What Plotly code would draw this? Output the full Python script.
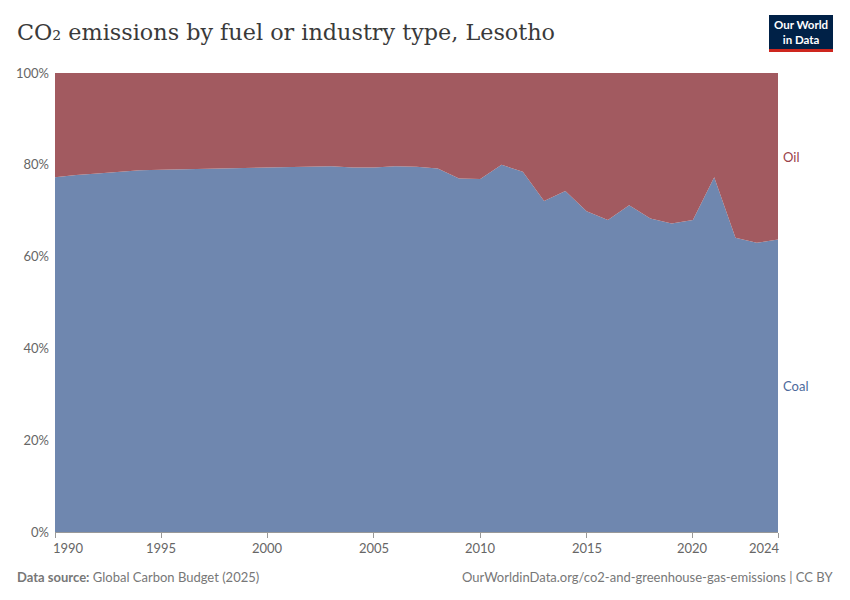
import plotly.graph_objects as go

years = list(range(1990, 2025))
coal_share = [77.3, 77.8, 78.1, 78.4, 78.8, 78.9, 79.0, 79.1, 79.2, 79.3,
              79.4, 79.5, 79.5, 79.7, 79.4, 79.4, 79.7, 79.6, 79.2, 77.0,
              76.9, 80.0, 78.5, 72.1, 74.3, 69.9, 68.0, 71.2, 68.3, 67.2,
              68.0, 77.3, 64.1, 63.0, 63.7]
oil_share = [round(100 - c, 1) for c in coal_share]

y_ticks = [0, 20, 40, 60, 80, 100]
y_tick_text = ["0%", "20%", "40%", "60%", "80%", "100%"]
x_ticks = [1990, 1995, 2000, 2005, 2010, 2015, 2020, 2024]

coal_color = "#6F87AF"
oil_color = "#A25A60"

# The page body adds an 8px offset; compensate so the screenshot matches.
OFF = 8
W, H = 850, 600
l, r, t, b = 55 - OFF, 72 + OFF, 73 - OFF, 68 + OFF
pw, ph = W - l - r, H - t - b


def px_to_paper(px, py):
    px -= OFF
    py -= OFF
    return (px - l) / pw, (H - b - py) / ph


fig = go.Figure()
fig.add_trace(go.Scatter(x=years, y=coal_share, name="Coal", stackgroup="one",
                         mode="lines", line=dict(width=0, color=coal_color),
                         fillcolor=coal_color, hoverinfo="skip"))
fig.add_trace(go.Scatter(x=years, y=oil_share, name="Oil", stackgroup="one",
                         mode="lines", line=dict(width=0, color=oil_color),
                         fillcolor=oil_color, hoverinfo="skip"))

fig.update_layout(
    width=W, height=H,
    margin=dict(l=l, r=r, t=t, b=b, autoexpand=False),
    paper_bgcolor="white", plot_bgcolor="white",
    showlegend=False,
    font=dict(family="Lato", color="#666666", size=13),
    xaxis=dict(range=[1990, 2024], tickvals=x_ticks, showticklabels=False,
               ticks="outside", ticklen=5, tickcolor="#999999",
               showline=True, linecolor="#999999", linewidth=1,
               showgrid=False, zeroline=False, fixedrange=True),
    yaxis=dict(range=[0, 100], tickvals=y_ticks, ticktext=y_tick_text,
               showgrid=True, gridcolor="rgba(170,170,170,0.45)", griddash="dash",
               gridwidth=1, layer="above traces", zeroline=False,
               showline=False, ticks="", ticklabelstandoff=5,
               tickfont=dict(size=13, color="#666666")),
)

annotations = []
for i, xv in enumerate(x_ticks):
    anchor = "center"
    shift = 0
    if i == 0:
        anchor, shift = "left", -4
    elif i == len(x_ticks) - 1:
        anchor, shift = "right", 4
    annotations.append(dict(x=xv, y=0, xref="x", yref="paper", text=str(xv),
                            showarrow=False, xanchor=anchor, yanchor="top",
                            yshift=-6, xshift=shift,
                            font=dict(size=13, color="#666666", family="Lato")))

# Series labels on the right
annotations.append(dict(x=1, xref="paper", y=81.7, yref="y",
                        text="Oil", showarrow=False, xanchor="left", xshift=3,
                        font=dict(size=13, color="#9A4149", family="Lato")))
annotations.append(dict(x=1, xref="paper", y=31.8, yref="y",
                        text="Coal", showarrow=False, xanchor="left", xshift=3,
                        font=dict(size=13, color="#4C6A9C", family="Lato")))

tx, ty = px_to_paper(15, 32)
annotations.append(dict(x=tx, y=ty, xref="paper", yref="paper",
                        text="CO₂ emissions by fuel or industry type, Lesotho",
                        showarrow=False, xanchor="left", yanchor="middle",
                        font=dict(family="DejaVu Serif", size=22.3, color="#3a3a3a")))

fx, fy = px_to_paper(15, 577)
annotations.append(dict(x=fx, y=fy, xref="paper", yref="paper",
                        text="<b>Data source:</b> Global Carbon Budget (2025)", showarrow=False,
                        xanchor="left", yanchor="middle",
                        font=dict(size=13, color="#777777", family="Lato")))
gx, gy = px_to_paper(835, 577)
annotations.append(dict(x=gx, y=gy, xref="paper", yref="paper",
                        text="OurWorldinData.org/co2-and-greenhouse-gas-emissions | CC BY",
                        showarrow=False, xanchor="right", yanchor="middle",
                        font=dict(size=13, color="#777777", family="Lato")))

lx, ly = px_to_paper(801, 32)
annotations.append(dict(x=lx, y=ly, xref="paper", yref="paper",
                        text="<b>Our World<br>in Data</b>", showarrow=False,
                        xanchor="center", yanchor="middle",
                        font=dict(size=11.5, color="white", family="Lato")))

fig.update_layout(annotations=annotations)

# Logo box
fig.add_shape(type="rect", xref="paper", yref="paper",
              x0=px_to_paper(769, 0)[0], x1=px_to_paper(833, 0)[0],
              y0=px_to_paper(0, 49)[1], y1=px_to_paper(0, 15)[1],
              fillcolor="#002147", line=dict(width=0), layer="above")
fig.add_shape(type="rect", xref="paper", yref="paper",
              x0=px_to_paper(769, 0)[0], x1=px_to_paper(833, 0)[0],
              y0=px_to_paper(0, 52)[1], y1=px_to_paper(0, 49)[1],
              fillcolor="#CE261E", line=dict(width=0), layer="above")

fig.write_html("out.html")
